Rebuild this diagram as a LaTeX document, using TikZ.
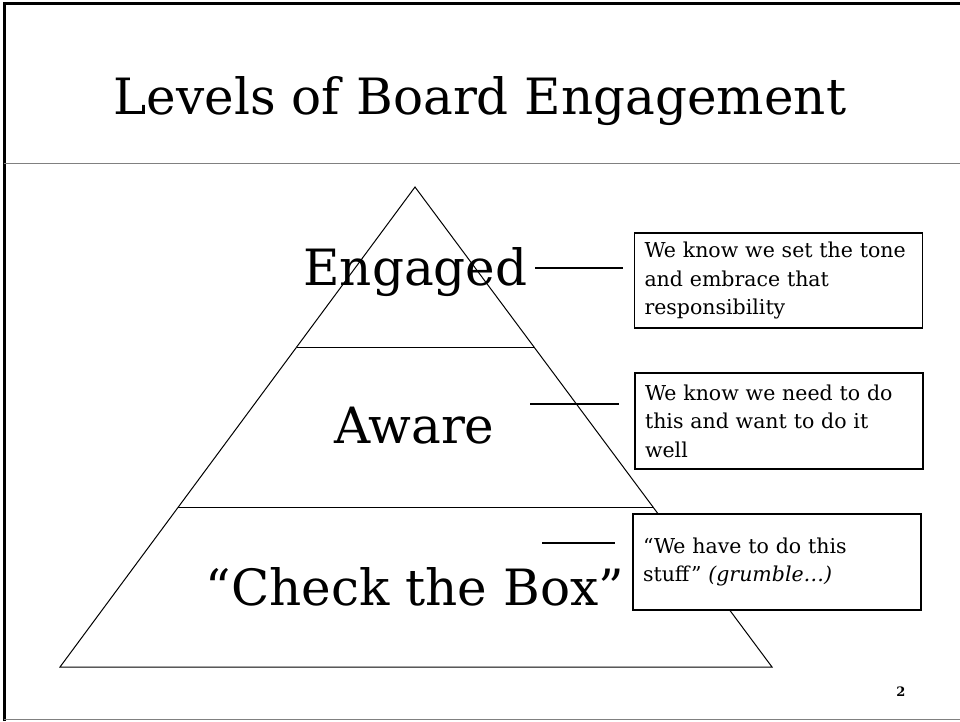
\documentclass[tikz,border=0pt]{standalone}
\usepackage{fontspec}
\setmainfont{DejaVu Serif}
\usetikzlibrary{positioning,calc}
\definecolor{rulegray}{gray}{0.5}

\begin{document}
\begin{tikzpicture}[
        x=1pt, y=-1pt,
        heading/.style={anchor=base, inner sep=0pt, font=\fontsize{50}{60}\selectfont},
        tier/.style={anchor=base, inner sep=0pt, font=\fontsize{50}{60}\selectfont},
        note/.style={rectangle, draw=black, fill=white, line width=1.2pt, minimum width=288pt, minimum height=96pt, text width=268pt, inner xsep=10pt, align=left, font=\fontsize{20.5}{28.5}\selectfont},
        link/.style={line width=1.2pt}
    ]
        \useasboundingbox (0,0) rectangle (960,721);

        % slide frame and title
        \draw[line width=3pt] (4,721) -- (4,3) -- (960,3);
        \draw[rulegray, line width=1.5pt] (4,719.5) -- (960,719.5);
        \draw[rulegray, line width=1pt] (4,163) -- (960,163);
        \node[heading] (title) at (480,114) {Levels of Board Engagement};

        % pyramid
        \coordinate (apex) at (415,187);
        \coordinate (baseL) at (60,667);
        \coordinate (baseR) at (772,667);
        \draw[line width=1pt] (apex) -- (baseL) -- (baseR) -- cycle;
        \draw[line width=1pt] ($(apex)!1/3!(baseL)$) -- ($(apex)!1/3!(baseR)$);
        \draw[line width=1pt] ($(apex)!2/3!(baseL)$) -- ($(apex)!2/3!(baseR)$);

        \node[tier] (engaged) at (415.5,285) {Engaged};
        \node[tier] (aware) at (414.5,443) {Aware};
        \node[tier] (checkbox) at (415,605) {“Check the Box”};

        % notes
        \node[note, minimum height=95pt] (engagedNote) at (778.5,280.5) {We know we set the tone\\and embrace that\\responsibility};
        \node[note] (awareNote) at (779,421) {We know we need to do\\this and want to do it\\well};
        \node[note] (checkboxNote) at (777,562) {“We have to do this\\stuff” \textit{(grumble…)}};

        % connectors
        \coordinate (engagedLink) at (535,268);
        \coordinate (awareLink) at (530,404);
        \coordinate (checkboxLink) at (542,543);
        \draw[link, shorten >=11pt] (engagedLink) -- (engagedLink -| engagedNote.west);
        \draw[link, shorten >=15pt] (awareLink) -- (awareLink -| awareNote.west);
        \draw[link, shorten >=17pt] (checkboxLink) -- (checkboxLink -| checkboxNote.west);

        \node[anchor=base, inner sep=0pt, font=\fontsize{13}{15}\selectfont\bfseries] (pagenum) at (901,696) {2};
    \end{tikzpicture}
\end{document}
